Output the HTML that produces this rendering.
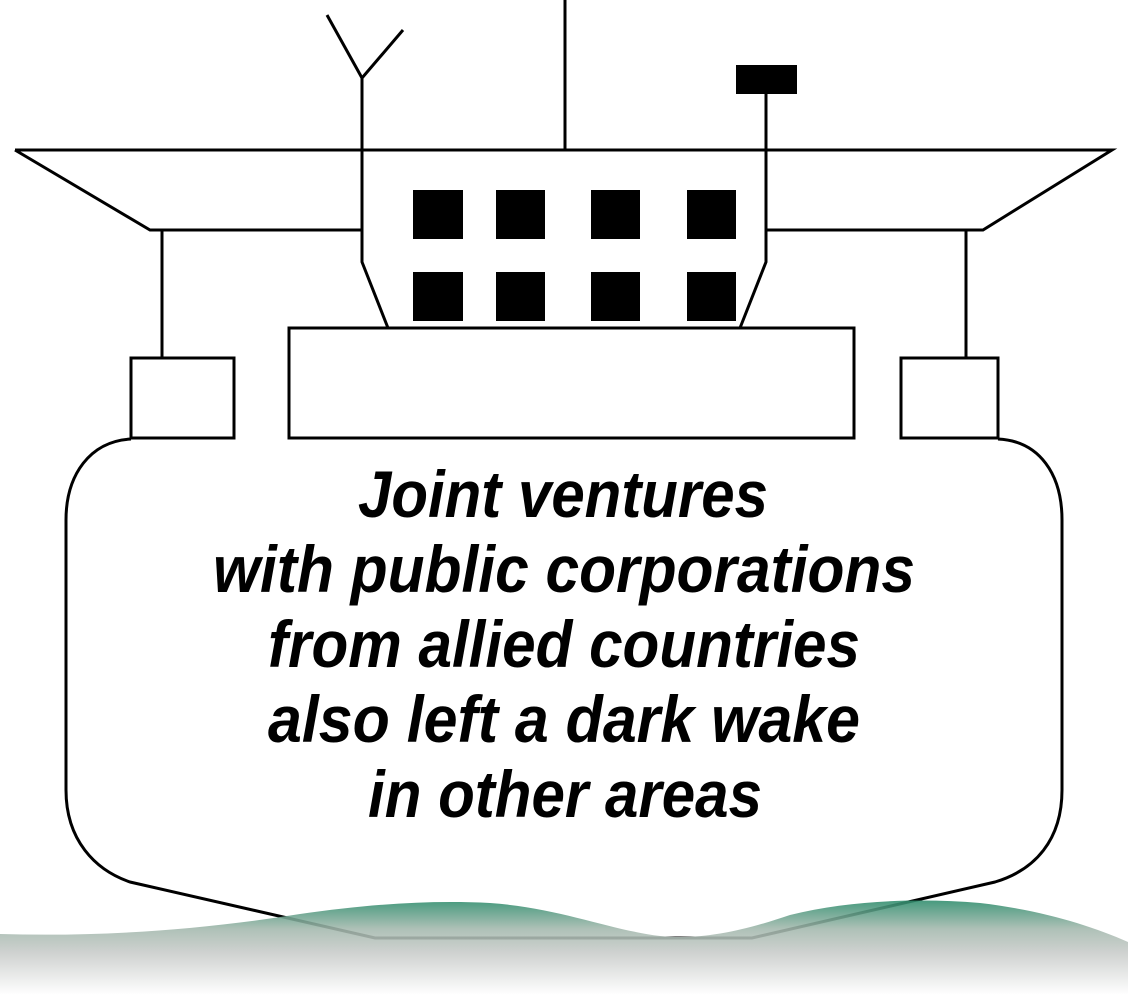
<!DOCTYPE html>
<html><head><meta charset="utf-8"><style>
html,body{margin:0;padding:0;background:#fff;width:1128px;height:1000px;overflow:hidden}
</style></head><body>
<svg width="1128" height="1000" viewBox="0 0 1128 1000" xmlns="http://www.w3.org/2000/svg">
<defs>
<linearGradient id="sea" x1="0" y1="0" x2="0" y2="1" gradientUnits="objectBoundingBox">
<stop offset="0" stop-color="#2e8c6c"/>
<stop offset="0.3" stop-color="#a3b8ad"/>
<stop offset="0.55" stop-color="#c8cbc9"/>
<stop offset="1" stop-color="#ffffff"/>
</linearGradient>
</defs>
<g fill="none" stroke="#000" stroke-width="3">
<path d="M15,150 L1112,150 L983,230 L766,230 M15,150 L150,230 L362,230"/>
<path d="M362,78 L362,262 L388,328 M766,93 L766,262 L740,328"/>
<path d="M327,15 L362,78 L403,30"/>
<path d="M565,0 L565,150"/>
<path d="M162,230 L162,358 M966,230 L966,358"/>
<rect x="131" y="358" width="103" height="80"/>
<rect x="901" y="358" width="97" height="80"/>
<rect x="289" y="328" width="565" height="110"/>
<path d="M131,439 C90,441 66,475 66,520 L66,790 C66,840 95,870 130,882 L375,938 L752,938 L995,882 C1035,870 1062,840 1062,790 L1062,520 C1062,475 1040,441 998,439"/>
</g>
<path d="M0,934 C100,937 200,930 300,914 C370,904 430,900 490,903 C560,908 610,930 660,936 C700,940 740,932 790,915 C850,900 920,898 980,903 C1040,910 1090,925 1128,942 L1128,995 L0,995 Z" fill="url(#sea)" fill-opacity="0.88"/>
<rect x="736" y="65" width="61" height="29" fill="#000"/>
<g fill="#000">
<rect x="413" y="190" width="50" height="49"/><rect x="496" y="190" width="49" height="49"/><rect x="591" y="190" width="49" height="49"/><rect x="687" y="190" width="49" height="49"/>
<rect x="413" y="272" width="50" height="49"/><rect x="496" y="272" width="49" height="49"/><rect x="591" y="272" width="49" height="49"/><rect x="687" y="272" width="49" height="49"/>
</g>
<g font-family="Liberation Sans, sans-serif" font-weight="bold" font-style="italic" font-size="66" fill="#000">
<text x="358" y="517" textLength="410" lengthAdjust="spacingAndGlyphs">Joint ventures</text>
<text x="213" y="592" textLength="702" lengthAdjust="spacingAndGlyphs">with public corporations</text>
<text x="268" y="667" textLength="592" lengthAdjust="spacingAndGlyphs">from allied countries</text>
<text x="268" y="742" textLength="592" lengthAdjust="spacingAndGlyphs">also left a dark wake</text>
<text x="368" y="817" textLength="394" lengthAdjust="spacingAndGlyphs">in other areas</text>
</g>
</svg>
</body></html>
